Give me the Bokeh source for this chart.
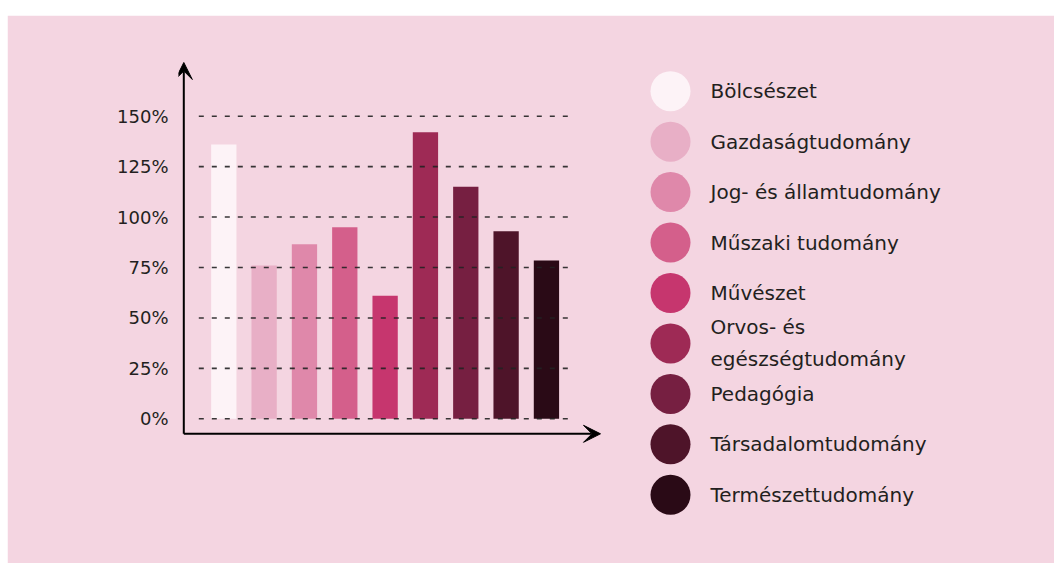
from bokeh.plotting import figure
from bokeh.models import Range1d, FixedTicker, PrintfTickFormatter, Arrow, VeeHead, ColumnDataSource, Spacer
from bokeh.layouts import column, row
from bokeh.core.properties import value
from bokeh.embed import file_html
from bokeh.resources import INLINE

# ---------------- data ----------------
categories = ["Bölcsészet", "Gazdaságtudomány", "Jog- és államtudomány", "Műszaki tudomány",
              "Művészet", "Orvos- és\negészségtudomány", "Pedagógia", "Társadalomtudomány",
              "Természettudomány"]
values_pct = [136, 76, 86.5, 95, 61, 142, 115, 93, 78.5]
colors = ["#fdf3f7", "#e8afc6", "#df88aa", "#d45f8b", "#c6366e",
          "#9e2a55", "#761f41", "#4e1429", "#2a0a16"]
y_ticks = [0, 25, 50, 75, 100, 125, 150]

# ---------------- layout constants (picture pixels) ----------------
BG = "#f4d5e1"
TXT = "#231f20"
FONT = "DejaVu Sans"
OX, OY = 7, 15                      # where the pink panel starts
FIG_W, FIG_H = 1054 - OX, 563 - OY
FR_L, FR_R, FR_T, FR_B = 178, 1054, 55, 540   # plot frame
Y0, Y150 = 418.3, 115.7                          # y of 0% and 150%
S = (Y0 - Y150) / 150.0                          # px per percent
BAR0, STEP = 223.3, 40.33                        # x of first bar centre, spacing

y_start = -(FR_B - Y0) / S
y_end = (Y0 - FR_T) / S
x_start = (FR_L - BAR0) / STEP
x_end = (FR_R - BAR0) / STEP

p = figure(width=FIG_W, height=FIG_H, output_backend="svg", toolbar_location=None,
           x_range=Range1d(x_start, x_end), y_range=Range1d(y_start, y_end),
           x_axis_location=None, y_axis_location="left",
           min_border_left=FR_L - OX, min_border_right=(OX + FIG_W) - FR_R,
           min_border_top=FR_T - OY, min_border_bottom=(OY + FIG_H) - FR_B,
           background_fill_color=BG, border_fill_color=BG,
           outline_line_color=BG, outline_line_width=3)
p.extra_x_ranges = {"px": Range1d(FR_L, FR_R)}
p.extra_y_ranges = {"px": Range1d(FR_B, FR_T)}
p.xgrid.visible = False
p.ygrid.visible = False

ax = p.yaxis[0]
ax.ticker = FixedTicker(ticks=y_ticks)
ax.formatter = PrintfTickFormatter(format="%d%%")
ax.axis_line_color = None
ax.major_tick_line_color = None
ax.minor_tick_line_color = None
ax.major_label_standoff = 4
ax.major_label_text_font = FONT
ax.major_label_text_font_size = "18px"
ax.major_label_text_color = TXT

# bars
src = ColumnDataSource(dict(x=list(range(len(categories))), top=values_pct,
                            color=colors, cat=categories))
p.vbar(x="x", top="top", bottom=0, width=25.3 / STEP, fill_color="color",
       line_color=None, source=src)

# dashed gridlines (drawn over the bars)
p.segment(x0=[198.3] * len(y_ticks), x1=[571.7] * len(y_ticks), y0=y_ticks, y1=y_ticks,
          x_range_name="px", line_color="#222222", line_alpha=0.9, line_width=1.6,
          line_dash="5 8")

# axes with arrows
AX_X, AX_Y = 183.3, 433.3
for xe, ye in [(AX_X, 62), (600, AX_Y)]:
    p.add_layout(Arrow(x_start=AX_X, y_start=AX_Y, x_end=xe, y_end=ye,
                       x_range_name="px", y_range_name="px",
                       line_color="black", line_width=2,
                       end=VeeHead(size=17, fill_color="black", line_color="black",
                                   line_width=1)))

# legend
LEG_Y0, LEG_STEP = 90.7, 50.45
leg_y = [LEG_Y0 + LEG_STEP * i for i in range(len(categories))]
leg = ColumnDataSource(dict(cx=[670] * len(categories), tx=[710] * len(categories),
                            y=leg_y, color=colors, cat=categories))
p.scatter(x="cx", y="y", size=40, marker="circle", fill_color="color", line_color=None,
          source=leg, x_range_name="px", y_range_name="px")
p.text(x="tx", y="y", text="cat", source=leg, x_range_name="px", y_range_name="px",
       text_font=value(FONT), text_font_size="20px", text_color=TXT,
       text_baseline="middle", text_align="left", text_line_height=1.33)

layout = row(Spacer(width=OX, height=FIG_H + OY),
             column(Spacer(width=FIG_W, height=OY), p))
open("out.html", "w").write(file_html(layout, INLINE))
